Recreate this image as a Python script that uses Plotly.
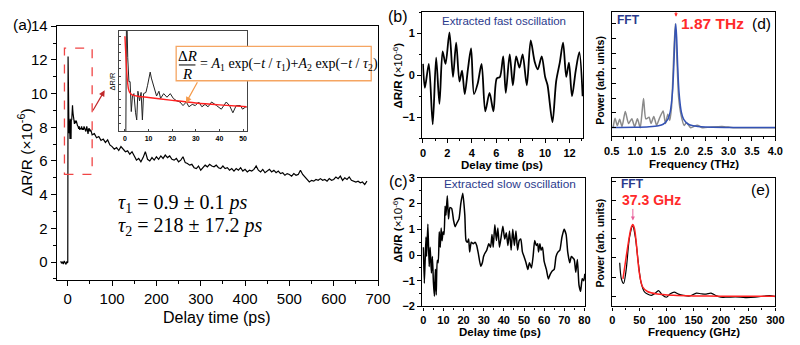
import plotly.graph_objects as go

W, H = 800, 345

# ---------------- data: panel (a) ----------------
a_pre_time = [-16, -14, -12, -10, -8, -6, -4, -2, -1]
a_pre_signal = [0.05, -0.08, 0.02, -0.12, 0.06, -0.05, -0.14, 0.03, -0.06]

a_early_time = [0, 0.7, 1.2, 1.7, 2.2, 2.7, 3.2, 3.8, 4.5, 5.0,
                5.5, 6.2, 6.85, 7.4, 7.9, 8.9, 9.6, 10.7, 11.2, 12.0,
                12.6, 13.4, 14.4, 15.1, 16.4, 17.8, 19.2, 20.5, 21.9, 23.3,
                24.6, 26.0, 27.1, 28.5, 29.8, 31.2, 32.6, 33.9, 35.2, 36.7,
                38.8, 40.8, 42.9, 44.3, 45.7, 47.1, 48.9, 49.8, 51.2, 52.5]
a_early_signal = [0.0, 12.2, 9.9, 8.9, 8.9, 7.65, 8.3, 8.4, 7.6, 7.3,
                  8.5, 8.1, 8.45, 7.3, 8.4, 8.45, 8.75, 9.3, 9.05, 8.8,
                  8.6, 8.3, 8.5, 8.2, 8.4, 8.25, 8.4, 8.2, 8.1, 8.05,
                  7.9, 8.05, 7.85, 7.95, 7.9, 8.05, 7.85, 7.95, 7.85, 8.05,
                  7.9, 7.75, 8.05, 7.9, 7.6, 7.9, 7.9, 7.75, 7.85, 7.8]

a_late_time = [55, 60, 65, 70, 75, 80, 85, 90, 95, 100,
               105, 110, 115, 120, 125, 130, 135, 140, 145, 150,
               155, 160, 165, 170, 175, 180, 185, 190, 195, 200,
               205, 210, 215, 220, 225, 230, 235, 240, 245, 250,
               255, 260, 265, 270, 275, 280, 285, 290, 295, 300,
               305, 310, 315, 320, 325, 330, 335, 340, 345, 350,
               355, 360, 365, 370, 375, 380, 385, 390, 395, 400,
               405, 410, 415, 420, 425, 430, 435, 440, 445, 450,
               455, 460, 465, 470, 475, 480, 485, 490, 495, 500,
               505, 510, 515, 520, 525, 530, 535, 540, 545, 550,
               555, 560, 565, 570, 575, 580, 585, 590, 595, 600,
               605, 610, 615, 620, 625, 630, 635, 640, 645, 650,
               655, 660, 665, 670, 675]
a_late_signal = [7.55, 7.62, 7.38, 7.45, 7.22, 7.30, 7.10, 7.25, 6.95, 6.85,
                 6.70, 6.80, 6.62, 6.85, 6.70, 6.55, 6.60, 6.40, 6.55, 6.30,
                 6.05, 6.15, 5.95, 6.20, 6.55, 6.10, 6.00, 6.20, 6.05, 6.25,
                 6.10, 6.30, 6.15, 6.35, 6.20, 6.30, 6.10, 6.05, 6.15, 5.95,
                 6.05, 6.25, 5.90, 5.85, 5.75, 5.80, 5.60, 5.55, 5.70, 5.45,
                 5.60, 5.75, 5.65, 5.80, 5.70, 5.65, 5.75, 5.60, 5.55, 5.70,
                 5.55, 5.60, 5.45, 5.55, 5.40, 5.55, 5.45, 5.60, 5.40, 5.50,
                 5.35, 5.45, 5.40, 5.50, 5.70, 5.45, 5.35, 5.50, 5.30, 5.40,
                 5.50, 5.35, 5.45, 5.30, 5.40, 5.25, 5.30, 5.15, 5.25, 5.20,
                 5.10, 5.25, 5.15, 5.20, 5.45, 5.20, 5.05, 4.90, 4.75, 4.85,
                 4.80, 4.90, 4.85, 4.95, 4.85, 4.90, 4.80, 4.95, 4.85, 4.90,
                 5.05, 4.95, 5.10, 4.85, 5.00, 4.90, 5.05, 4.85, 4.80, 4.75,
                 4.80, 4.70, 4.75, 4.60, 4.80]

inset_fit_time = [0, 0.3, 0.6, 1.0, 1.5, 2.0, 3.0, 5.0, 10, 20, 30, 40, 52]
inset_fit_signal = [10.8, 10.2, 9.6, 9.0, 8.6, 8.45, 8.35, 8.3, 8.24, 8.12, 8.01, 7.93, 7.85]

# zoomed region marked in (a)
ZOOM_T = [-7.5, 55]
ZOOM_V = [5.2, 12.7]

# ---------------- data: panel (b) ----------------
b_time = [0, 0.16, 0.48, 0.8, 1.08, 1.35, 1.61, 1.85, 2.17, 2.46,
          2.72, 2.99, 3.2, 3.42, 3.68, 3.94, 4.18, 4.48, 4.8, 5.1,
          5.45, 5.77, 6.04, 6.3, 6.57, 6.78, 7.1, 7.36, 7.63, 7.9,
          8.16, 8.5, 8.82, 9.14, 9.4, 9.72, 10.0, 10.2, 10.6, 10.9,
          11.2, 11.47, 11.73, 11.95, 12.2, 12.5, 12.8, 13.07]
b_signal = [0.27, -0.3, 0.27, -1.17, 0.42, -0.68, 0.57, 0.27, 1.02, -0.04,
            0.78, -0.15, 0.11, -0.45, 0.14, 0.64, -0.45, -0.2, 0.27, -0.86,
            -0.42, -0.86, -0.08, -0.04, 0.45, -0.42, 0.5, -0.24, 0.45, 0.18,
            0.5, -0.24, 0.83, 0.33, 0.14, 0.45, -0.04, -0.24, -1.12, -0.15,
            0.3, 0.78, -0.04, 0.3, -0.5, 0.1, 0.55, -0.5]

# ---------------- data: panel (c) ----------------
c_time = [0, 0.5, 1.3, 1.6, 2.25, 2.9, 3.4, 4.0, 4.5, 5.0,
          5.5, 6.0, 6.4, 6.9, 7.4, 7.9, 8.4, 8.85, 9.3, 9.8,
          10.3, 10.8, 11.25, 11.9, 12.5, 13.2, 14.1, 15.0, 15.8, 16.7,
          17.7, 18.6, 19.6, 20.6, 21.2, 21.9, 22.5, 23.0, 23.8, 24.8,
          25.7, 26.5, 27.3, 28.5, 29.3, 29.9, 30.5, 31.5, 32.5, 33.4,
          34.1, 34.7, 35.5, 36.3, 37.0, 37.8, 38.6, 39.5, 40.4, 41.2,
          42.0, 42.8, 43.6, 44.4, 45.2, 46.0, 46.8, 47.6, 48.4, 49.2,
          50.0, 51.0, 51.9, 52.7, 53.7, 54.5, 55.3, 56.1, 56.8, 57.2,
          57.9, 58.5, 59.2, 60.0, 61.1, 62.1, 63.0, 64.0, 65.0, 65.9,
          66.9, 67.8, 68.8, 69.9, 70.9, 71.7, 72.7, 73.5, 74.9, 75.7,
          76.5, 77.3, 78.1, 78.9, 79.7, 80.2]
c_signal = [0.3, -1.1, 0.7, -0.06, 1.2, -0.45, 0.3, -0.7, -0.06, -1.05,
            -1.6, -0.55, -1.55, -0.2, -0.3, 0.9, 0.3, 1.05, 0.55, 0.9,
            0.8, 1.9, 1.55, 2.3, 1.4, 1.85, 1.8, 1.35, 1.1, 1.25,
            1.4, 2.0, 2.4, 1.55, 0.56, 0.5, 0.62, 0.12, 0.5, 0.44,
            0.5, 0.37, 0.06, -0.44, -0.3, -0.06, 0.06, 0.19, 0.44, 0.3,
            0.8, 0.3, 1.18, 0.56, 1.05, 0.3, 0.68, 1.12, 0.62, 0.87,
            0.37, 0.93, 0.19, 1.0, 0.37, 0.93, 0.19, 0.56, 0.62, 0.12,
            -0.06, -0.3, -0.56, -0.3, -0.5, -0.06, 0.56, 0.37, 0.44, 0.12,
            0.44, 0.19, 0.3, -0.25, -0.56, -0.93, -0.75, -0.62, -0.56, -0.06,
            0.12, 0.19, 0.68, 1.0, 0.8, 0.12, -0.3, -0.06, -0.17, -0.67,
            -0.17, -1.17, -1.41, -0.92, -1.0, -0.73]

# ---------------- data: panel (d) ----------------
d_fft_freq = [0.53, 0.57, 0.62, 0.67, 0.72, 0.79, 0.86, 0.93, 0.99, 1.05,
              1.11, 1.18, 1.23, 1.30, 1.34, 1.40, 1.46, 1.53, 1.60, 1.65,
              1.70, 1.74, 1.78, 1.82, 1.86, 1.90, 1.93, 1.98, 2.05, 2.10,
              2.19, 2.33, 2.44, 2.60, 2.86, 3.10, 3.50, 4.00]
d_fft_power = [0.0, 0.09, 0.02, 0.08, 0.01, 0.155, 0.04, 0.085, 0.01, 0.085,
               0.0, 0.28, 0.085, 0.1, 0.04, 0.107, 0.024, 0.1, 0.16, 0.04,
               0.13, 0.07, 0.2, 0.62, 1.0, 0.6, 0.3, 0.13, 0.02, 0.05,
               0.0, 0.024, 0.0, 0.005, 0.012, 0.0, 0.0, 0.0]
d_fit_freq = [0.5, 1.0, 1.3, 1.5, 1.6, 1.7, 1.75, 1.8, 1.83, 1.85, 1.87,
              1.89, 1.91, 1.94, 1.99, 2.04, 2.14, 2.24, 2.5, 3.0, 4.0]
d_fit_power = [0.001, 0.003, 0.008, 0.018, 0.033, 0.08, 0.15, 0.34, 0.61, 0.86, 1.0,
               0.86, 0.61, 0.34, 0.15, 0.08, 0.033, 0.018, 0.006, 0.002, 0.001]

# ---------------- data: panel (e) ----------------
e_fft_freq = [13.8, 16.8, 21, 25.8, 31.8, 37.8, 42.6, 48, 52.8, 58.8,
              64.8, 72, 78, 85.2, 91.8, 99.6, 106.8, 114, 121.8, 130.8,
              142.8, 154.8, 163.8, 172.8, 181.8, 190.8, 199.8, 211.8, 226.8, 244.8,
              262.8, 280.8, 289.8, 300]
e_fft_power = [0.467, 0.244, 0.178, 0.378, 0.82, 0.98, 0.82, 0.467, 0.2, 0.067,
               0.031, 0.013, 0.035, 0.08, 0.022, -0.013, 0.035, 0.058, 0.031, 0.013,
               0.004, 0.044, 0.035, 0.031, 0.044, 0.009, -0.013, -0.013, -0.009, -0.018,
               -0.013, 0.004, 0.009, -0.004]
e_fit_freq = [19.8, 25.8, 31.8, 34.8, 37.8, 40.8, 43.8, 49.8, 55.8, 64.8,
              82.8, 112.8, 150, 200, 250, 300]
e_fit_power = [0.244, 0.556, 0.844, 0.956, 1.0, 0.95, 0.78, 0.33, 0.133, 0.067,
               0.031, 0.013, 0.005, 0.002, 0.001, 0.0]

# ---------------- helpers ----------------
def fx(p):
    return p / W


def fy(p):
    return 1 - p / H


SANS = "Liberation Sans, Arial, sans-serif"
SERIF = "Liberation Serif, Times New Roman, serif"
NAVY = "#2b3a8c"
RED = "#ff2a2a"

a_time = a_pre_time + a_early_time + a_late_time
a_signal = a_pre_signal + a_early_signal + a_late_signal
inset_time = [t for t in a_time if -3 <= t <= 54]
inset_signal = [v for t, v in zip(a_time, a_signal) if -3 <= t <= 54]

fig = go.Figure()


def line(x, y, xa, ya, color, width, shape="linear", smoothing=1.0):
    fig.add_trace(go.Scatter(x=x, y=y, xaxis=xa, yaxis=ya, mode="lines",
                             line=dict(color=color, width=width, shape=shape,
                                       smoothing=smoothing),
                             showlegend=False, hoverinfo="skip"))


line(a_time, a_signal, "x", "y", "black", 1.2)
line(inset_time, inset_signal, "x2", "y2", "#222222", 1.0)
line(inset_fit_time, inset_fit_signal, "x2", "y2", "#ff2020", 1.4, "spline", 0.8)
line(b_time, b_signal, "x3", "y3", "black", 1.8, "spline", 0.8)
line(c_time, c_signal, "x4", "y4", "black", 1.5, "spline", 0.5)
line(d_fft_freq, d_fft_power, "x5", "y5", "#8a8a8a", 1.5, "spline", 0.6)
line(d_fit_freq, d_fit_power, "x5", "y5", "#3352b5", 1.5, "spline", 0.8)
line(e_fft_freq, e_fft_power, "x6", "y6", "black", 1.2, "spline", 0.8)
line(e_fit_freq, e_fit_power, "x6", "y6", "#ff2020", 1.5, "spline", 0.8)


def axis(domain, rng, anchor, size=11, bold=True, ticks="outside", ticklen=4,
         dtick=None, tick0=0, minor=None, labels=True, lw=1.4, color="black",
         fmt=None):
    d = dict(domain=domain, range=rng, anchor=anchor, showline=True,
             linecolor=color, linewidth=lw, mirror=True, showgrid=False,
             zeroline=False, ticks=ticks, ticklen=ticklen, tickwidth=lw,
             tickcolor=color, showticklabels=labels,
             tickfont=dict(family=SANS, size=size, color="black",
                           weight="bold" if bold else "normal"),
             tickmode="linear", tick0=tick0, dtick=dtick, fixedrange=True)
    if minor is not None:
        d["minor"] = dict(dtick=minor, tick0=tick0, ticks=ticks,
                          ticklen=max(ticklen - 2, 2), tickwidth=lw,
                          tickcolor=color, showgrid=False)
    if fmt:
        d["tickformat"] = fmt
    return d


layout = dict(
    width=W, height=H, autosize=False,
    margin=dict(l=0, r=0, t=0, b=0, pad=0),
    paper_bgcolor="white", plot_bgcolor="white",
    xaxis=axis([fx(50), fx(380)], [-25, 700], "y", size=15, bold=False,
               ticklen=5, dtick=100, minor=50, lw=1.2),
    yaxis=axis([fy(283), fy(18)], [-1.05, 14], "x", size=15, bold=False,
               ticklen=5, dtick=2, minor=1, lw=1.2),
    xaxis2=axis([fx(114), fx(245)], [-2.5, 51.5], "y2", size=7, ticks="inside",
                ticklen=2, dtick=10, lw=1.0, color="#444444"),
    yaxis2=axis([fy(128), fy(22.7)], [6.82, 11.03], "x2", ticks="inside",
                ticklen=2, dtick=0.33, tick0=6.82, labels=False, lw=1.0,
                color="#444444"),
    xaxis3=axis([fx(425.5), fx(590.5)], [-0.05, 13.1], "y3", dtick=2, minor=1),
    yaxis3=axis([fy(135), fy(3.5)], [-1.5, 1.5], "x3", dtick=1, minor=0.5),
    xaxis4=axis([fx(425.5), fx(593)], [-0.5, 80.5], "y4", dtick=10, minor=5,
                ticklen=3),
    yaxis4=axis([fy(311), fy(176.5)], [-2, 3], "x4", dtick=1, minor=0.5),
    xaxis5=axis([fx(620), fx(788)], [0.5, 4.0], "y5", dtick=0.5, tick0=0.5,
                minor=0.25, fmt=".1f"),
    yaxis5=axis([fy(133), fy(3)], [-0.082, 1.113], "x5", ticks="inside",
                dtick=0.1425, labels=False),
    xaxis6=axis([fx(620.5), fx(788)], [0, 300], "y6", dtick=50, minor=25,
                ticklen=3),
    yaxis6=axis([fy(311), fy(177)], [-0.142, 1.644], "x6", ticks="inside",
                dtick=0.267, labels=False),
)


def txt(x, y, text, size, color="black", family=SANS, xanchor="center",
        angle=0):
    return dict(x=fx(x), y=fy(y), xref="paper", yref="paper", text=text,
                showarrow=False, font=dict(family=family, size=size, color=color),
                xanchor=xanchor, yanchor="middle", textangle=angle)


def arrow(hx, hy, ax, ay, color, width=1.2, size=1.0):
    return dict(x=fx(hx), y=fy(hy), xref="paper", yref="paper", text="",
                showarrow=True, ax=ax, ay=ay, arrowhead=2, arrowsize=size,
                arrowwidth=width, arrowcolor=color)


YT = "ΔR/R (×10<sup>-6</sup>)"
YTB = "<b>ΔR/R (</b>×10<sup>-6</sup><b>)</b>"

annotations = [
    # panel (a)
    txt(14.5, 16, "(a)", 15.5),
    txt(18, 150, YT, 15.5, angle=-90),
    txt(215, 323, "Delay time (ps)", 16),
    txt(111, 203, "<i>τ</i><sub>1</sub> = 0.9 ± 0.1 <i>ps</i>", 20,
        family=SERIF, xanchor="left"),
    txt(111, 227, "<i>τ</i><sub>2</sub> = 218 ± 17.2 <i>ps</i>", 20,
        family=SERIF, xanchor="left"),
    txt(107.5, 75, "ΔR/R", 7.5, angle=-90),
    txt(184, 49, "Δ<i>R</i>", 15, family=SERIF),
    txt(184, 68, "<i>R</i>", 15, family=SERIF),
    txt(195, 58.5, "= <i>A</i><sub>1</sub> exp(−<i>t</i> / <i>τ</i><sub>1</sub>)"
        "+<i>A</i><sub>2</sub> exp(−<i>t</i> / <i>τ</i><sub>2</sub>)", 14,
        family=SERIF, xanchor="left"),
    arrow(99.3, 85, -12.6, 21.7, "#c0282a"),
    arrow(182.7, 98.3, 12.3, -22.3, "#f59a4a"),
    # panel (b)
    txt(401, 8, "(b)", 16),
    txt(400, 70, YTB, 11.5, angle=-90),
    txt(507, 163, "<b>Delay time (ps)</b>", 11.5),
    txt(509, 12.7, "Extracted fast oscillation", 11.5, color=NAVY),
    # panel (c)
    txt(401, 180, "(c)", 16),
    txt(400, 231, YTB, 11.5, angle=-90),
    txt(505, 337.5, "<b>Delay time (ps)</b>", 11.5),
    txt(516, 183.3, "Extracted slow oscillation", 11.8, color=NAVY),
    # panel (d)
    txt(637, 12, "<b>FFT</b>", 12, color=NAVY),
    txt(723, 15, "<b>1.87 THz</b>", 15.5, color=RED),
    txt(774, 15, "(d)", 15.5),
    txt(705, 161.7, "<b>Frequency (THz)</b>", 11.5),
    txt(608, 75, "<b>Power (arb. units)</b>", 10.5, angle=-90),
    arrow(686, 8, 0, -6, RED, width=1.0, size=0.7),
    # panel (e)
    txt(641, 183.3, "<b>FFT</b>", 12, color=NAVY),
    txt(661, 200, "<b>37.3 GHz</b>", 14, color=RED),
    txt(773, 188.3, "(e)", 15.5),
    txt(705, 337.5, "<b>Frequency (GHz)</b>", 11.5),
    txt(608, 245, "<b>Power (arb. units)</b>", 10.5, angle=-90),
    arrow(641.7, 221, 0, -13, "#e8609a", width=1.0, size=0.8),
]

shapes = [
    dict(type="rect", xref="x", yref="y", x0=ZOOM_T[0], x1=ZOOM_T[1],
         y0=ZOOM_V[0], y1=ZOOM_V[1],
         line=dict(color="#f04545", width=1.3, dash="dash")),
    dict(type="rect", xref="paper", yref="paper", x0=fx(172.7), x1=fx(373),
         y0=fy(75), y1=fy(39), line=dict(color="#f5a562", width=1.3),
         fillcolor="white", layer="above"),
    dict(type="line", xref="paper", yref="paper", x0=fx(175.5), x1=fx(192.5),
         y0=fy(58.5), y1=fy(58.5), line=dict(color="black", width=1),
         layer="above"),
]

layout["annotations"] = annotations
layout["shapes"] = shapes
fig.update_layout(**layout)

fig.write_html("out.html", config={"displayModeBar": False})
